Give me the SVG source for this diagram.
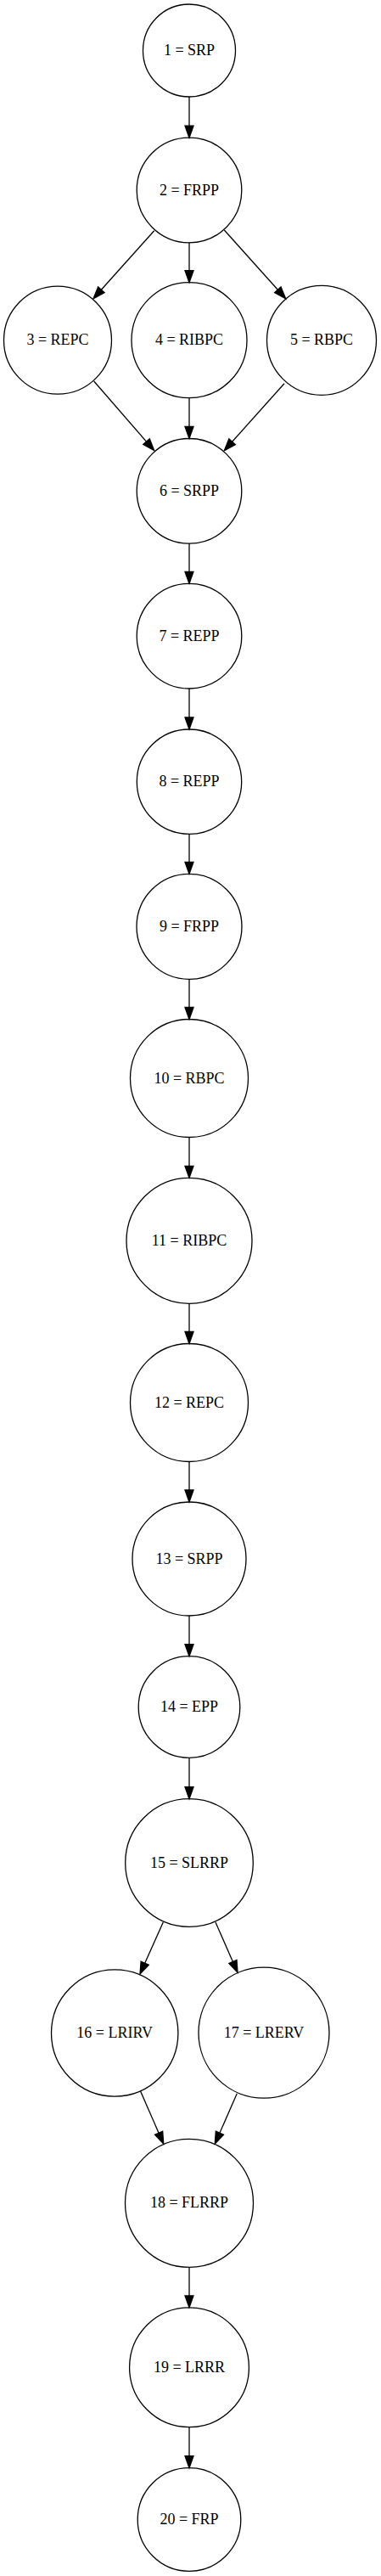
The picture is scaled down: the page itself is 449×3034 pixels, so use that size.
<svg xmlns="http://www.w3.org/2000/svg" width="449" height="3034" viewBox="0 0 449 3034">
<style>
.n ellipse{fill:none;stroke:#000;stroke-width:1.3}
.n text{font-family:"Liberation Serif","Times New Roman",serif;font-size:18px;text-anchor:middle;fill:#000}
.e line{stroke:#000;stroke-width:1.3;marker-end:url(#ah)}
</style>
<defs>
<marker id="ah" markerUnits="userSpaceOnUse" markerWidth="16" markerHeight="12" refX="0" refY="0" viewBox="0 -6 16 12" orient="auto" overflow="visible">
<path d="M0,-5 L14,0 L0,5 Z" fill="#000" stroke="#000" stroke-width="1.3"/>
</marker>
</defs>
<rect width="449" height="3034" fill="#fff"/>
<g id="edges" class="e">
<line x1="223" y1="114" x2="223" y2="148.2"/>
<line x1="181.7" y1="271.7" x2="119.35" y2="341.27"/>
<line x1="223" y1="285.8" x2="223" y2="318.7"/>
<line x1="264.3" y1="271" x2="327.35" y2="341.28"/>
<line x1="110.7" y1="449" x2="172.5" y2="520.1"/>
<line x1="223" y1="468.7" x2="223" y2="502.5"/>
<line x1="335" y1="451.7" x2="273.6" y2="520.3"/>
<line x1="223" y1="640.1" x2="223" y2="673.4"/>
<line x1="223" y1="811" x2="223" y2="845"/>
<line x1="223" y1="982.4" x2="223" y2="1015.3"/>
<line x1="223" y1="1153.3" x2="223" y2="1186.5"/>
<line x1="223" y1="1339.5" x2="223" y2="1373.3"/>
<line x1="223" y1="1535.3" x2="223" y2="1568.5"/>
<line x1="223" y1="1721.5" x2="223" y2="1755"/>
<line x1="223" y1="1903" x2="223" y2="1936.7"/>
<line x1="223" y1="2070.3" x2="223" y2="2104.7"/>
<line x1="192.3" y1="2264" x2="170.7" y2="2312.2"/>
<line x1="254" y1="2264" x2="274.4" y2="2310.5"/>
<line x1="165.7" y1="2463.3" x2="187.1" y2="2512.2"/>
<line x1="279.3" y1="2465.7" x2="258.9" y2="2512.2"/>
<line x1="223" y1="2670.3" x2="223" y2="2703.9"/>
<line x1="223" y1="2858.7" x2="223" y2="2892.7"/>
</g>
<g id="n1" class="n"><ellipse cx="223" cy="59.5" rx="54.5" ry="54.5"/><text x="223" y="65">1 = SRP</text></g>
<g id="n2" class="n"><ellipse cx="223" cy="224" rx="61.8" ry="61.8"/><text x="223" y="229.5">2 = FRPP</text></g>
<g id="n3" class="n"><ellipse cx="68" cy="400.7" rx="63.5" ry="63.5"/><text x="68" y="406.2">3 = REPC</text></g>
<g id="n4" class="n"><ellipse cx="223" cy="400.7" rx="68" ry="68"/><text x="223" y="406.2">4 = RIBPC</text></g>
<g id="n5" class="n"><ellipse cx="379" cy="400.8" rx="64.5" ry="64.5"/><text x="379" y="406.3">5 = RBPC</text></g>
<g id="n6" class="n"><ellipse cx="223" cy="578.3" rx="61.8" ry="61.8"/><text x="223" y="583.8">6 = SRPP</text></g>
<g id="n7" class="n"><ellipse cx="223" cy="749.2" rx="61.8" ry="61.8"/><text x="223" y="754.7">7 = REPP</text></g>
<g id="n8" class="n"><ellipse cx="223" cy="920.7" rx="61.7" ry="61.7"/><text x="223" y="926.2">8 = REPP</text></g>
<g id="n9" class="n"><ellipse cx="223" cy="1091.3" rx="62" ry="62"/><text x="223" y="1096.8">9 = FRPP</text></g>
<g id="n10" class="n"><ellipse cx="223" cy="1270" rx="69.5" ry="69.5"/><text x="223" y="1275.5">10 = RBPC</text></g>
<g id="n11" class="n"><ellipse cx="223" cy="1461.3" rx="74" ry="74"/><text x="223" y="1466.8">11 = RIBPC</text></g>
<g id="n12" class="n"><ellipse cx="223" cy="1652" rx="69.5" ry="69.5"/><text x="223" y="1657.5">12 = REPC</text></g>
<g id="n13" class="n"><ellipse cx="223" cy="1836" rx="67" ry="67"/><text x="223" y="1841.5">13 = SRPP</text></g>
<g id="n14" class="n"><ellipse cx="223" cy="2010.5" rx="59.8" ry="59.8"/><text x="223" y="2016">14 = EPP</text></g>
<g id="n15" class="n"><ellipse cx="223" cy="2194" rx="75.3" ry="75.3"/><text x="223" y="2199.5">15 = SLRRP</text></g>
<g id="n16" class="n"><ellipse cx="135.2" cy="2394.5" rx="74.7" ry="74.7"/><text x="135.2" y="2400">16 = LRIRV</text></g>
<g id="n17" class="n"><ellipse cx="311" cy="2394.2" rx="77" ry="77"/><text x="311" y="2399.7">17 = LRERV</text></g>
<g id="n18" class="n"><ellipse cx="223" cy="2594.8" rx="75.5" ry="75.5"/><text x="223" y="2600.3">18 = FLRRP</text></g>
<g id="n19" class="n"><ellipse cx="223" cy="2788.3" rx="70.4" ry="70.4"/><text x="223" y="2793.8">19 = LRRR</text></g>
<g id="n20" class="n"><ellipse cx="223" cy="2967.5" rx="60.8" ry="60.8"/><text x="223" y="2973">20 = FRP</text></g>
</svg>
